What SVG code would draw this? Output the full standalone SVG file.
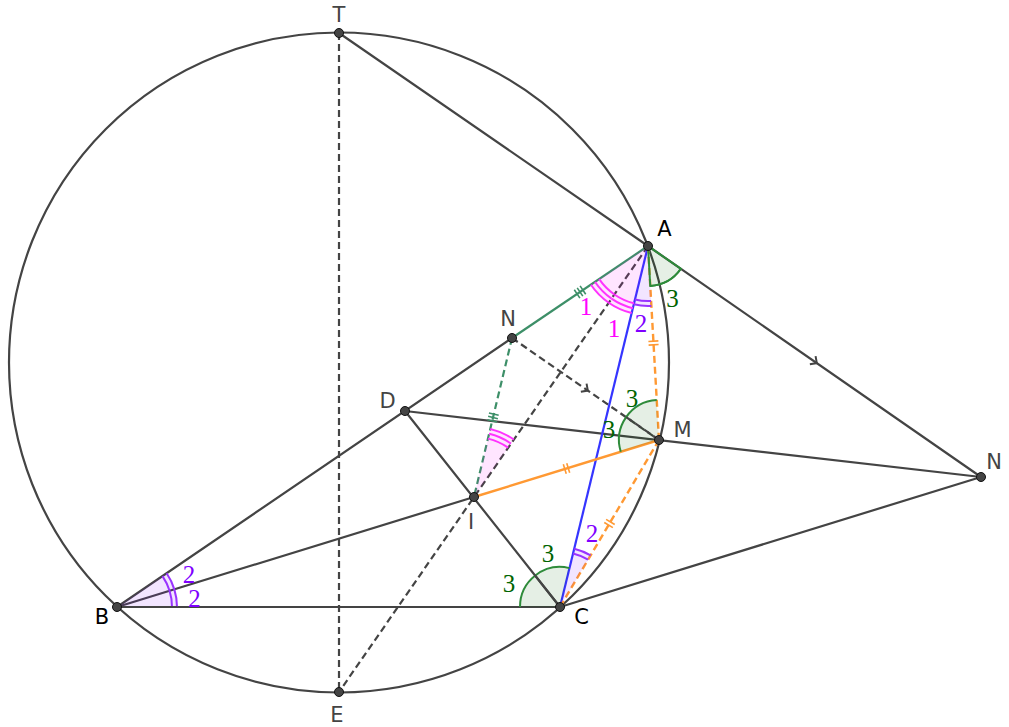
<svg xmlns="http://www.w3.org/2000/svg" width="1009" height="727" viewBox="0 0 1009 727">
<style>
.ln{stroke:#444;stroke-width:2.2;fill:none;stroke-linecap:round}
.dash{stroke-dasharray:7 4;stroke-linecap:butt}
.grn{stroke:#3d8f68;stroke-width:2.2;fill:none}
.org{stroke:#ff9933;stroke-width:2.4;fill:none}
.blu{stroke:#3535ff;stroke-width:2.2;fill:none}
.pt{fill:#444;stroke:#111;stroke-width:1}
.lbl{font-family:"DejaVu Sans","Liberation Sans",sans-serif;font-size:21px;fill:#444;text-anchor:middle}
.lblk{fill:#000}
.num{font-family:"Liberation Serif","DejaVu Serif",serif;font-size:25px;text-anchor:middle}
.pkf{fill:#ff00ff;fill-opacity:0.1;stroke:none}
.pka{stroke:#ff33ff;stroke-width:2;fill:none}
.puf{fill:#7f00ff;fill-opacity:0.1;stroke:none}
.pua{stroke:#9933ff;stroke-width:2;fill:none}
.gnf{fill:#006400;fill-opacity:0.1;stroke:#2e8b3a;stroke-width:2}
.tk{stroke-width:1.6;fill:none}
</style>
<rect width="1009" height="727" fill="#fff"/>
<circle id="circle" cx="339" cy="362.5" r="330" class="ln"/>
<g id="connectors">
<line class="ln" x1="339" y1="33" x2="648" y2="246"/>
<line class="ln" x1="648" y1="246" x2="981" y2="477"/>
<line class="ln" x1="117" y1="607" x2="512" y2="338"/>
<line class="grn" x1="512" y1="338" x2="648" y2="246"/>
<line class="ln" x1="117" y1="607" x2="560" y2="607"/>
<line class="ln" x1="117" y1="607" x2="474" y2="497"/>
<line class="ln" x1="405" y1="411" x2="981" y2="477"/>
<line class="ln" x1="405" y1="411" x2="560" y2="607"/>
<line class="ln" x1="560" y1="607" x2="981" y2="477"/>
<line class="ln dash" x1="339" y1="33" x2="339" y2="692"/>
<line class="ln dash" x1="648" y1="246" x2="339" y2="692"/>
<line class="ln dash" x1="512" y1="338" x2="659" y2="440"/>
<line class="blu" x1="648" y1="246" x2="560" y2="607"/>
<line class="org" x1="474" y1="497" x2="659" y2="440"/>
<line class="org dash" x1="648" y1="246" x2="659" y2="440"/>
<line class="org dash" x1="659" y1="440" x2="560" y2="607"/>
<line class="grn dash" x1="512" y1="338" x2="474" y2="497"/>
<g transform="translate(580,292) rotate(-34.08)" class="tk" stroke="#3d8f68"><path d="M-3.5,-5V5M0,-5V5M3.5,-5V5"/></g>
<g transform="translate(493,417.5) rotate(103.4)" class="tk" stroke="#3d8f68"><path d="M-3.5,-5V5M0,-5V5M3.5,-5V5"/></g>
<g transform="translate(566.5,468.5) rotate(-17.1)" class="tk" stroke="#ff9933"><path d="M-1.8,-5V5M1.8,-5V5"/></g>
<g transform="translate(653.5,343) rotate(86.75)" class="tk" stroke="#ff9933"><path d="M-1.8,-5V5M1.8,-5V5"/></g>
<g transform="translate(609.5,523.5) rotate(120.7)" class="tk" stroke="#ff9933"><path d="M-1.8,-5V5M1.8,-5V5"/></g>
<g transform="translate(587,390) rotate(34.76)" class="tk" stroke="#444"><path d="M-4,-5L1,0L-4,5" stroke-width="2"/></g>
<g transform="translate(816,362.5) rotate(34.75)" class="tk" stroke="#444"><path d="M-4,-5L1,0L-4,5" stroke-width="2"/></g>
</g>
<g id="angles">
<path class="pkf" d="M648,246L590.94,284.79A69,69 0 0 0 608.70,302.72Z"/>
<path class="pka" d="M590.94,284.79A69,69 0 0 0 608.70,302.72M595.07,281.98A64,64 0 0 0 611.55,298.61M599.21,279.17A59,59 0 0 0 614.40,294.50"/>
<path class="pkf" d="M648,246L608.70,302.72A69,69 0 0 0 631.66,313.03Z"/>
<path class="pka" d="M608.70,302.72A69,69 0 0 0 631.66,313.03M611.55,298.61A64,64 0 0 0 632.84,308.18M614.40,294.50A59,59 0 0 0 634.03,303.32"/>
<path class="puf" d="M648,246L633.79,304.29A60,60 0 0 0 651.40,305.90Z"/>
<path class="pua" d="M633.79,304.29A60,60 0 0 0 651.40,305.90M634.98,299.43A55,55 0 0 0 651.11,300.91"/>
<path class="gnf" d="M648,246L650.26,285.94A40,40 0 0 0 680.86,268.80Z" stroke="none"/>
<path d="M650.26,285.94A40,40 0 0 0 680.86,268.80" fill="none" stroke="#2e8b3a" stroke-width="2"/>
<path class="pkf" d="M474,497L490.27,428.92A70,70 0 0 1 513.88,439.47Z"/>
<path class="pka" d="M490.27,428.92A70,70 0 0 1 513.88,439.47M489.11,433.79A65,65 0 0 1 511.03,443.58M487.94,438.65A60,60 0 0 1 508.18,447.69"/>
<path class="puf" d="M117,607L177,607A60,60 0 0 0 166.62,573.27Z"/>
<path class="pua" d="M177,607A60,60 0 0 0 174.34,589.34M172,607A55,55 0 0 0 169.56,590.81M174.34,589.34A60,60 0 0 0 166.62,573.27M169.56,590.81A55,55 0 0 0 162.49,576.08"/>
<path d="M560,607L520,607A40,40 0 0 1 569.47,568.14Z" fill="#006400" fill-opacity="0.1"/>
<path d="M520,607A40,40 0 0 1 569.47,568.14" fill="none" stroke="#2e8b3a" stroke-width="2"/>
<path class="puf" d="M560,607L574.21,548.71A60,60 0 0 1 590.60,555.38Z"/>
<path class="pua" d="M574.21,548.71A60,60 0 0 1 590.60,555.38M573.02,553.57A55,55 0 0 1 588.05,559.68"/>
<path d="M659,440L656.74,400.06A40,40 0 0 0 620.78,451.78Z" fill="#006400" fill-opacity="0.1"/>
<path d="M656.74,400.06A40,40 0 0 0 620.78,451.78" fill="none" stroke="#2e8b3a" stroke-width="2"/>
<line class="ln" x1="117" y1="607" x2="177" y2="607"/>
<line class="ln" x1="560" y1="607" x2="535" y2="575.4"/>
<line class="ln dash" x1="659" y1="440" x2="626" y2="417"/>
</g>
<g id="labels-angle">
<text class="num" x="586" y="315" fill="#ff00ff">1</text>
<text class="num" x="614" y="336.7" fill="#ff00ff">1</text>
<text class="num" x="641" y="331.7" fill="#7f00ff">2</text>
<text class="num" x="672.5" y="307" fill="#006400">3</text>
<text class="num" x="632" y="406.7" fill="#006400">3</text>
<text class="num" x="609" y="438" fill="#006400">3</text>
<text class="num" x="548" y="561.7" fill="#006400">3</text>
<text class="num" x="509" y="591.7" fill="#006400">3</text>
<text class="num" x="592" y="541.7" fill="#7f00ff">2</text>
<text class="num" x="189" y="582.7" fill="#7f00ff">2</text>
<text class="num" x="194.5" y="606.7" fill="#7f00ff">2</text>
</g>
<g id="T"><circle class="pt" cx="339" cy="33" r="4.5"/><text class="lbl" x="339" y="22">T</text></g>
<g id="A"><circle class="pt" cx="648" cy="246" r="4.5"/><text class="lbl lblk" x="664.5" y="236">A</text></g>
<g id="N"><circle class="pt" cx="512" cy="338" r="4.5"/><text class="lbl" x="508" y="326">N</text></g>
<g id="D"><circle class="pt" cx="405" cy="411" r="4.5"/><text class="lbl" x="387.5" y="408">D</text></g>
<g id="M"><circle class="pt" cx="659" cy="440" r="4.5"/><text class="lbl" x="682.5" y="437">M</text></g>
<g id="I"><circle class="pt" cx="474" cy="497" r="4.5"/><text class="lbl" x="471" y="529">I</text></g>
<g id="B"><circle class="pt" cx="117" cy="607" r="4.5"/><text class="lbl lblk" x="102" y="624">B</text></g>
<g id="C"><circle class="pt" cx="560" cy="607" r="4.5"/><text class="lbl lblk" x="581.5" y="624">C</text></g>
<g id="E"><circle class="pt" cx="339" cy="692" r="4.5"/><text class="lbl" x="337" y="722">E</text></g>
<g id="N2"><circle class="pt" cx="981" cy="477" r="4.5"/><text class="lbl" x="994" y="469">N</text></g>
</svg>
